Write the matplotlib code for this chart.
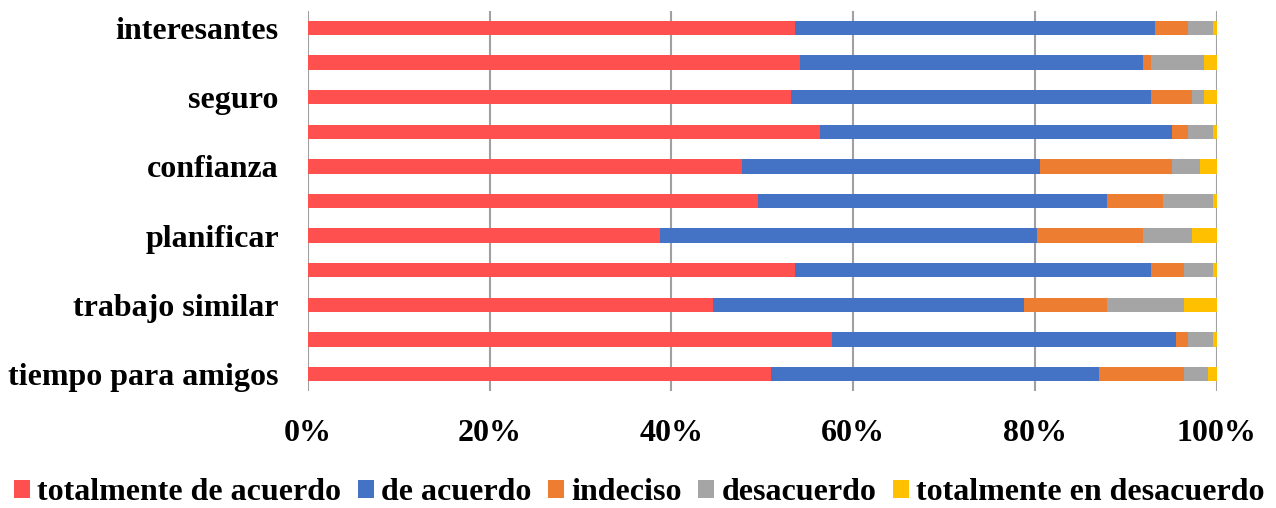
import matplotlib
matplotlib.use("Agg")
import matplotlib.pyplot as plt
import numpy as np

categories = ["interesantes", "", "seguro", "", "confianza", "", "planificar", "",
              "trabajo similar", "", "tiempo para amigos"]
series_names = ["totalmente de acuerdo", "de acuerdo", "indeciso", "desacuerdo",
                "totalmente en desacuerdo"]
tot_acuerdo = [53.6, 54.1, 53.2, 56.3, 47.8, 49.5, 38.7, 53.6, 44.6, 57.7, 50.9]
de_acuerdo = [39.6, 37.8, 39.6, 38.8, 32.8, 38.4, 41.5, 39.2, 34.2, 37.8, 36.1]
indeciso = [3.6, 0.9, 4.5, 1.7, 14.5, 6.2, 11.7, 3.6, 9.1, 1.3, 9.4]
desacuerdo = [2.8, 5.8, 1.3, 2.8, 3.1, 5.5, 5.4, 3.2, 8.5, 2.8, 2.7]
tot_desacuerdo = [0.4, 1.4, 1.4, 0.4, 1.8, 0.4, 2.7, 0.4, 3.6, 0.4, 0.9]
colors = ["#FF5050", "#4472C4", "#ED7D31", "#A5A5A5", "#FFC000"]
xticks = [0, 20, 40, 60, 80, 100]
xticklabels = ["0%", "20%", "40%", "60%", "80%", "100%"]

plt.rcParams['font.family'] = ['Liberation Serif', 'DejaVu Serif']
plt.rcParams['font.weight'] = 'bold'

fig = plt.figure(figsize=(12.76, 5.08), dpi=100)
ax = fig.add_axes([0.2414, 0.2297, 0.9535 - 0.2414, 0.979 - 0.2297])

data = [tot_acuerdo, de_acuerdo, indeciso, desacuerdo, tot_desacuerdo]
arr = np.array(data, dtype=float)
arr = arr / arr.sum(axis=0) * 100
y = np.arange(len(categories))
left = np.zeros(len(categories))
for vals, name, c in zip(arr, series_names, colors):
    ax.barh(y, vals, left=left, height=0.42, color=c, label=name, zorder=3)
    left += vals

ax.set_xlim(0, 100)
ax.set_ylim(len(categories) - 0.5, -0.5)
ax.set_yticks(y)
ax.set_yticklabels(categories, fontsize=23, fontweight='bold')
ax.set_xticks(xticks)
ax.set_xticklabels(xticklabels, fontsize=23, fontweight='bold')
ax.tick_params(axis='both', length=0)
ax.tick_params(axis='y', pad=21)
ax.tick_params(axis='x', pad=20)
ax.grid(axis='x', color='#A0A0A0', linewidth=1.5, zorder=0)
for s in ax.spines.values():
    s.set_visible(False)

handles, labels = ax.get_legend_handles_labels()
leg = fig.legend(handles, labels, loc='center', bbox_to_anchor=(0.501, 1 - 493 / 508),
                 ncol=5, frameon=False, fontsize=23, handlelength=0.5, handleheight=0.5,
                 handletextpad=0.22, columnspacing=0.53, borderaxespad=0, borderpad=0)
for t in leg.get_texts():
    t.set_fontweight('bold')

fig.savefig("out.png", dpi=100)
